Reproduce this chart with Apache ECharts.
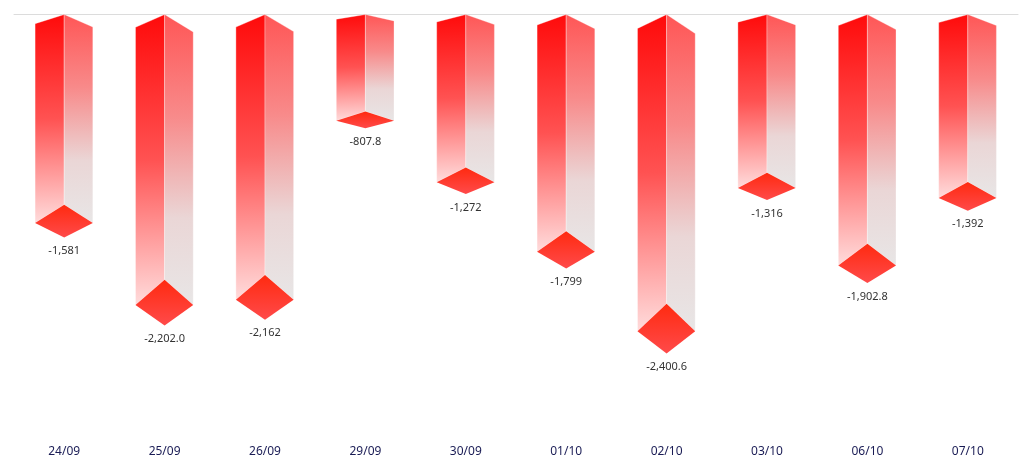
<!DOCTYPE html>
<html>
<head>
<meta charset="utf-8">
<script src="https://cdn.jsdelivr.net/npm/echarts@6/dist/echarts.min.js"></script>
<style>html,body{margin:0;padding:0;background:#fff;}#c{width:1033px;height:472px;}</style>
</head>
<body>
<div id="c"></div>
<script>
var categories = ['24/09','25/09','26/09','29/09','30/09','01/10','02/10','03/10','06/10','07/10'];
var values = [-1581, -2202.0, -2162, -807.8, -1272, -1799, -2400.6, -1316, -1902.8, -1392];
var valueLabels = ['-1,581','-2,202.0','-2,162','-807.8','-1,272','-1,799','-2,400.6','-1,316','-1,902.8','-1,392'];

var chart = echarts.init(document.getElementById('c'), null, {renderer:'canvas'});

function renderItem(params, api) {
  var i = params.dataIndex;
  var idx = api.value(0);
  var p0 = api.coord([idx, 0]);
  var p1 = api.coord([idx, api.value(1)]);
  var band = api.size([1, 0])[0];
  var cx = p0[0];
  var xl = cx - band * 0.29;
  var xr = cx + band * 0.285;
  var y0 = p0[1] + 0.5;
  var yv = p1[1];
  var L = yv - y0;
  var dTop = yv - 0.087 * L;
  var dBot = yv + 0.07 * L;
  var leftTop = y0 + 0.044 * L;
  var rightTop = y0 + 0.06 * L;
  var leftFace = {
    type: 'polygon',
    shape: { points: [[cx, y0], [xl, leftTop], [xl, yv], [cx, dTop]] },
    style: {
      fill: new echarts.graphic.LinearGradient(0, 0, 0.1, 1, [
        { offset: 0, color: '#ff0a0a' },
        { offset: 0.5, color: '#ff5252' },
        { offset: 1, color: '#ffdcdc' }
      ]),
      stroke: 'rgba(255,255,255,0.35)', lineWidth: 1
    }
  };
  var rightFace = {
    type: 'polygon',
    shape: { points: [[cx, y0], [xr, rightTop], [xr, yv], [cx, dTop]] },
    style: {
      fill: new echarts.graphic.LinearGradient(0, 0, 0, 1, [
        { offset: 0, color: '#ff5656' },
        { offset: 0.35, color: '#f88a8a' },
        { offset: 0.7, color: '#ead6d6' },
        { offset: 1, color: '#e8e6e6' }
      ]),
      stroke: 'rgba(255,255,255,0.3)', lineWidth: 1
    }
  };
  var diamond = {
    type: 'polygon',
    shape: { points: [[cx, dTop], [xr, yv], [cx, dBot], [xl, yv]] },
    style: {
      fill: new echarts.graphic.LinearGradient(0, 0, 0, 1, [
        { offset: 0, color: '#ff2a10' },
        { offset: 1, color: '#ff4a4a' }
      ])
    }
  };
  var label = {
    type: 'text',
    x: cx, y: dBot + 8,
    style: {
      text: valueLabels[i],
      fill: '#333333',
      fontSize: 11,
      fontFamily: 'Noto Sans',
      align: 'center', textAlign: 'center',
      verticalAlign: 'top', textVerticalAlign: 'top'
    }
  };
  return { type: 'group', children: [leftFace, rightFace, diamond, label] };
}

var option = {
  animation: false,
  backgroundColor: '#ffffff',
  grid: { left: 14, right: 15, top: 14, bottom: 35, containLabel: false },
  xAxis: [{
    type: 'category',
    data: categories,
    position: 'bottom',
    axisLine: { show: false },
    axisTick: { show: false },
    axisLabel: { color: '#1a1c55', fontSize: 12, fontFamily: 'Noto Sans', margin: 9 }
  }, {
    type: 'category',
    data: categories,
    position: 'top',
    axisLine: { show: true, lineStyle: { color: '#dcdcdc', width: 1 } },
    axisTick: { show: false },
    axisLabel: { show: false }
  }],
  yAxis: {
    type: 'value',
    min: -3200, max: 0,
    show: false,
    splitLine: { show: false }
  },
  series: [{
    type: 'custom',
    xAxisIndex: 0,
    renderItem: renderItem,
    encode: { x: 0, y: 1 },
    data: values.map(function (v, i) { return [i, v]; }),
    clip: false
  }]
};
chart.setOption(option);
</script>
</body>
</html>
